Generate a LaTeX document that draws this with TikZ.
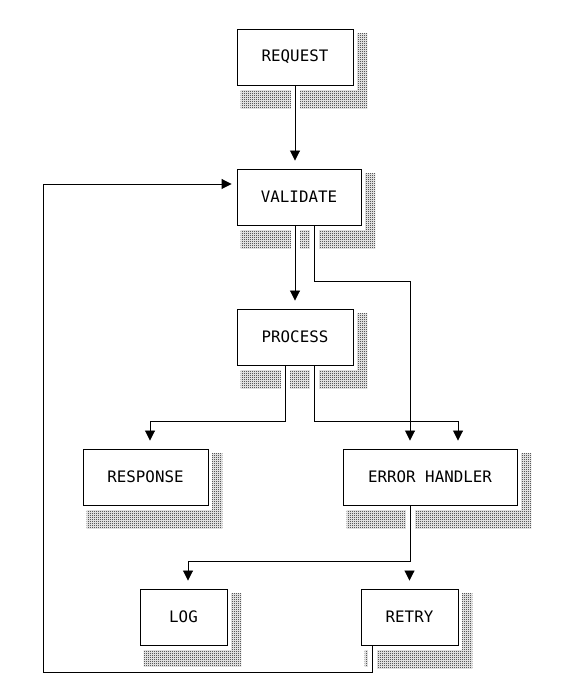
\documentclass[tikz,border=0pt]{standalone}
\usepackage{fontspec}
\newfontfamily\boxfont{DejaVu Sans Mono}
\usetikzlibrary{arrows.meta,patterns}
\pgfdeclarelayer{shade}
\pgfdeclarelayer{gaps}
\pgfsetlayers{shade,gaps,main}
% checkerboard stipple for the box shadows
\pgfdeclarepatternformonly{stipple}{\pgfpointorigin}{\pgfqpoint{2pt}{2pt}}{\pgfqpoint{2pt}{2pt}}{%
  \pgfpathrectangle{\pgfpointorigin}{\pgfqpoint{1pt}{1pt}}%
  \pgfpathrectangle{\pgfqpoint{1pt}{1pt}}{\pgfqpoint{1pt}{1pt}}%
  \pgfusepath{fill}}
\tikzset{
  stage/.style={draw, fill=white, line width=0.9pt, inner sep=0pt,
    minimum height=56pt, font=\boxfont\fontsize{15.8}{18}\selectfont},
  wire/.style={line width=0.9pt},
  arr/.style={-{Triangle[width=10pt,length=10pt]}, shorten >=8pt}
}
% a connector, with a white band below it that cuts the shadows
\newcommand\link[2][]{%
  \begin{pgfonlayer}{gaps}\draw[white, line width=9pt] #2;\end{pgfonlayer}
  \draw[wire, #1] #2;}
\begin{document}
\begin{tikzpicture}[x=1pt, y=1pt]
  \useasboundingbox (0,0) rectangle (570,698);
  % boxes
  \node[stage, minimum width=116pt] (request)  at (295,641)   {REQUEST};
  \node[stage, minimum width=124pt] (validate) at (299,501)   {VALIDATE};
  \node[stage, minimum width=116pt] (process)  at (295,361)   {PROCESS};
  \node[stage, minimum width=125pt] (response) at (145.5,221) {RESPONSE};
  \node[stage, minimum width=174pt] (error)    at (430,221)   {ERROR HANDLER};
  \node[stage, minimum width=87pt]  (log)      at (183.5,81)  {LOG};
  \node[stage, minimum width=97pt]  (retry)    at (409.5,81)  {RETRY};
  % shadows, with a white margin round each box
  \foreach \n in {request,validate,process,response,error,log,retry} {
    \begin{pgfonlayer}{shade}
      \fill[pattern=stipple] ([shift={(4,-5)}]\n.north west) rectangle ([shift={(14,-23)}]\n.south east);
    \end{pgfonlayer}
    \begin{pgfonlayer}{gaps}
      \fill[white] (\n.north west) rectangle ([shift={(4,-5)}]\n.south east);
    \end{pgfonlayer}
  }
  % main flow
  \link[arr]{(request.south) -- (request.south |- validate.north)}
  \link[arr]{(validate.south -| process.north) -- (process.north)}
  % validation failure
  \link[arr]{([xshift=15pt]validate.south) -- ++(0,-56) -| ([xshift=-20pt]error.north)}
  % process branches
  \link[arr]{([xshift=-10pt]process.south) -- ++(0,-56) -| ([xshift=4.5pt]response.north)}
  \link[arr]{([xshift=19pt]process.south) -- ++(0,-56) -| ([xshift=28pt]error.north)}
  % error handler branches
  \link[arr]{([xshift=-20pt]error.south) -- ++(0,-56) -| ([xshift=4.5pt]log.north)}
  \coordinate (retryin) at ([yshift=18pt]retry.north);
  \draw[wire, arr] (retryin) -- (retry.north);
  % retry loop back to validate
  \coordinate (loopcorner) at (43,26);
  \link[arr, shorten >=5pt]{([xshift=-37.5pt]retry.south) |- (loopcorner) |- ([yshift=13pt]validate.west)}
\end{tikzpicture}
\end{document}
